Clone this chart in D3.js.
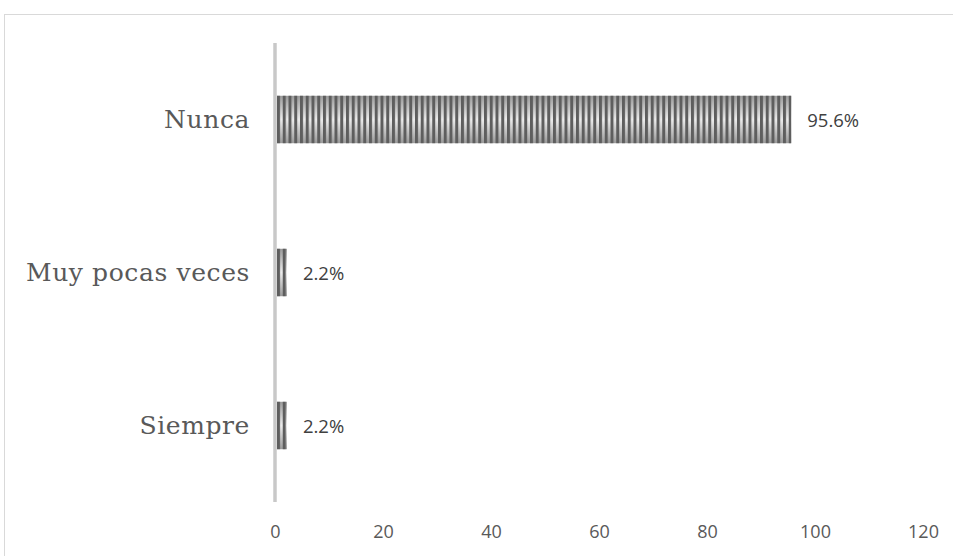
<!DOCTYPE html>
<html><head><meta charset="utf-8">
<script src="https://cdn.jsdelivr.net/npm/d3@7"></script>
<style>html,body{margin:0;padding:0;background:#fff;}svg{display:block;}</style>
</head><body>
<svg id="chart" width="953" height="556"></svg>
<script>
const categories = ["Nunca", "Muy pocas veces", "Siempre"];
const values = [95.6, 2.2, 2.2];
const valueLabels = ["95.6%", "2.2%", "2.2%"];
const tickValues = [0, 20, 40, 60, 80, 100, 120];

const svg = d3.select("#chart");

// chart border (extends past the window on the right and bottom)
svg.append("rect").attr("x", 4.5).attr("y", 14.5).attr("width", 960).attr("height", 560)
  .attr("fill", "#fff").attr("stroke", "#d9d9d9").attr("stroke-width", 1);

const x = d3.scaleLinear().domain([0, 120]).range([275, 923]);
const y = d3.scaleBand().domain(categories).range([43, 502]).paddingInner(0.69).paddingOuter(0.345);

const defs = svg.append("defs");
const grad = defs.append("linearGradient").attr("id", "barGrad").attr("x1", 0).attr("y1", 0).attr("x2", 0).attr("y2", 1);
grad.append("stop").attr("offset", "0%").attr("stop-color", "#9a9a9a");
grad.append("stop").attr("offset", "50%").attr("stop-color", "#ececec");
grad.append("stop").attr("offset", "100%").attr("stop-color", "#9a9a9a");

const pat = defs.append("pattern").attr("id", "stripes").attr("patternUnits", "userSpaceOnUse")
  .attr("x", 277).attr("y", 0).attr("width", 5.75).attr("height", 10);
pat.append("rect").attr("x", 0).attr("y", 0).attr("width", 3).attr("height", 10).attr("fill", "#5e5e5e");

const bars = svg.append("g");
bars.selectAll("rect.bg").data(values).join("rect").attr("class", "bg")
  .attr("x", x(0) + 2).attr("y", (d, i) => y(categories[i]))
  .attr("width", d => x(d) - x(0) - 2).attr("height", y.bandwidth())
  .attr("fill", "url(#barGrad)");
bars.selectAll("rect.st").data(values).join("rect").attr("class", "st")
  .attr("x", x(0) + 2).attr("y", (d, i) => y(categories[i]))
  .attr("width", d => x(d) - x(0) - 2).attr("height", y.bandwidth())
  .attr("fill", "url(#stripes)");

// vertical axis line
svg.append("line").attr("x1", x(0)).attr("x2", x(0)).attr("y1", 43).attr("y2", 502)
  .attr("stroke", "#c8c8c8").attr("stroke-width", 3.5);

// category labels
svg.append("g").selectAll("text").data(categories).join("text")
  .attr("x", 250).attr("y", d => y(d) + y.bandwidth() / 2)
  .attr("text-anchor", "end").attr("dominant-baseline", "central")
  .attr("font-family", "DejaVu Serif").attr("font-size", 25).attr("letter-spacing", 0.6)
  .attr("fill", "#595959").text(d => d);

// value labels
svg.append("g").selectAll("text").data(values).join("text")
  .attr("x", d => x(d) + 16).attr("y", (d, i) => y(categories[i]) + y.bandwidth() / 2)
  .attr("dominant-baseline", "central")
  .attr("font-family", "Open Sans").attr("font-size", 18.5)
  .attr("fill", "#404040").text((d, i) => valueLabels[i]);

// x axis tick labels
const axis = d3.axisBottom(x).tickValues(tickValues).tickSize(0).tickPadding(0).tickFormat(d3.format("d"));
const gx = svg.append("g").attr("transform", "translate(0,525)").call(axis);
gx.select(".domain").remove();
gx.selectAll("text").attr("font-family", "Open Sans").attr("font-size", 18).attr("fill", "#595959");
</script>
</body></html>
